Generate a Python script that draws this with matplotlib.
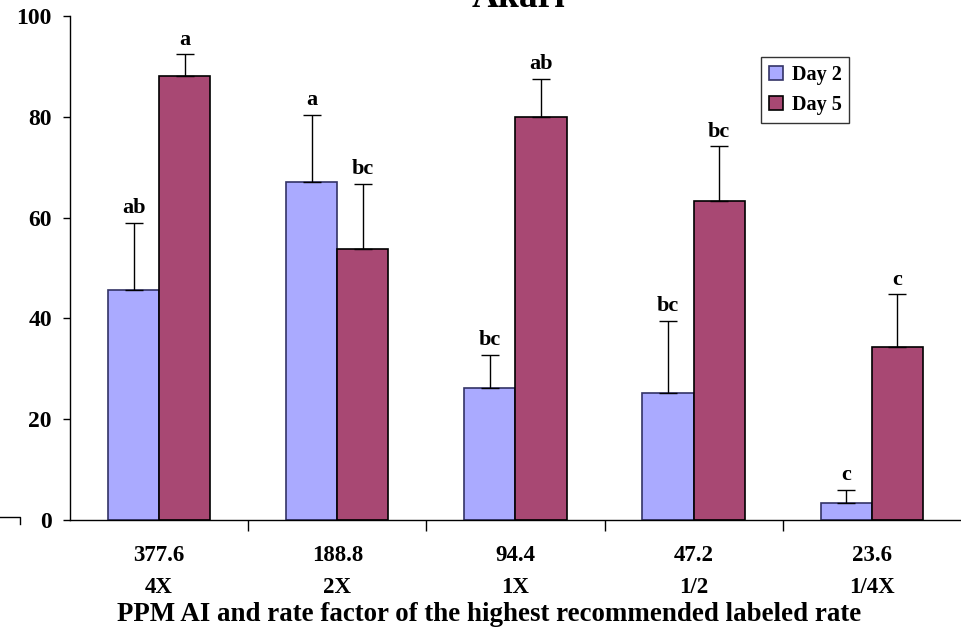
import numpy as np
import matplotlib.pyplot as plt
from matplotlib.lines import Line2D

rates = ["377.6", "188.8", "94.4", "47.2", "23.6"]
factors = ["4X", "2X", "1X", "1/2", "1/4X"]
day2 = [45.7, 67.1, 26.2, 25.2, 3.4]
day5 = [88.0, 53.8, 80.0, 63.3, 34.3]
day2_err = [13.3, 13.3, 6.6, 14.3, 2.6]
day5_err = [4.4, 12.9, 7.5, 10.9, 10.5]
day2_letters = ["ab", "a", "bc", "bc", "c"]
day5_letters = ["a", "bc", "ab", "bc", "c"]

plt.rcParams['font.family'] = ['Liberation Serif', 'DejaVu Serif']
plt.rcParams['font.weight'] = 'bold'

fig = plt.figure(figsize=(9.62, 6.33), dpi=100)
ax = fig.add_axes([0.0728, 0.1785, 0.926, 0.7962])

x = np.arange(len(rates))
w = 0.287
blue = '#AAAAFF'
red = '#A84873'
ekw = dict(ecolor='black', elinewidth=1, capsize=6.5, capthick=1)

ax.bar(x - w / 2, day2, w, color=blue, edgecolor='#333366', linewidth=1.2, label='Day 2',
       yerr=[np.zeros(5), day2_err], error_kw=ekw)
ax.bar(x + w / 2, day5, w, color=red, edgecolor='black', linewidth=1.2, label='Day 5',
       yerr=[np.zeros(5), day5_err], error_kw=ekw)

for i in range(len(rates)):
    ax.text(x[i] - w / 2, day2[i] + day2_err[i] + 0.9, day2_letters[i], ha='center', va='bottom',
            fontsize=16, fontweight='bold')
    ax.text(x[i] + w / 2, day5[i] + day5_err[i] + 0.9, day5_letters[i], ha='center', va='bottom',
            fontsize=16, fontweight='bold')

ax.set_xlim(-0.5, 4.5)
ax.set_ylim(0, 100)
ax.set_yticks([0, 20, 40, 60, 80, 100])
ax.tick_params(axis='y', labelsize=17, length=5, width=1, pad=8)
ax.set_xticks(np.arange(0.5, 4.5, 1.0))
ax.set_xticklabels([])
ax.tick_params(axis='x', which='major', length=8, width=1)
ax.set_xticks(x, minor=True)
ax.set_xticklabels([f"{r}\n{f}" for r, f in zip(rates, factors)], minor=True,
                   fontsize=16.5, fontweight='bold', linespacing=1.7)
ax.tick_params(axis='x', which='minor', length=0, pad=18)
for s in ['top', 'right']:
    ax.spines[s].set_visible(False)
ax.spines['left'].set_linewidth(1)
ax.spines['bottom'].set_linewidth(1)

ax.set_xlabel("PPM AI and rate factor of the highest recommended labeled rate",
              fontsize=19.4, fontweight='bold')
ax.xaxis.set_label_coords(0.47, -0.1865)
ax.xaxis.label.set_va('center')

leg = ax.legend(loc='upper left', bbox_to_anchor=(0.776, 0.919), fontsize=14.5, frameon=True,
                fancybox=False, edgecolor='black', handlelength=0.7, handleheight=0.7,
                handletextpad=0.4, borderpad=0.4, labelspacing=0.5, borderaxespad=0)
leg.get_frame().set_linewidth(1)

fig.text(0.5385, 1 - 7 / 633, "Akari", ha='center', va='baseline', fontsize=27, fontweight='bold')

# stray mark at lower left
fig.add_artist(Line2D([0, 20 / 962, 20 / 962], [1 - 517 / 633, 1 - 517 / 633, 1 - 524 / 633],
                      color='black', linewidth=1))

fig.savefig("out.png", dpi=100)
